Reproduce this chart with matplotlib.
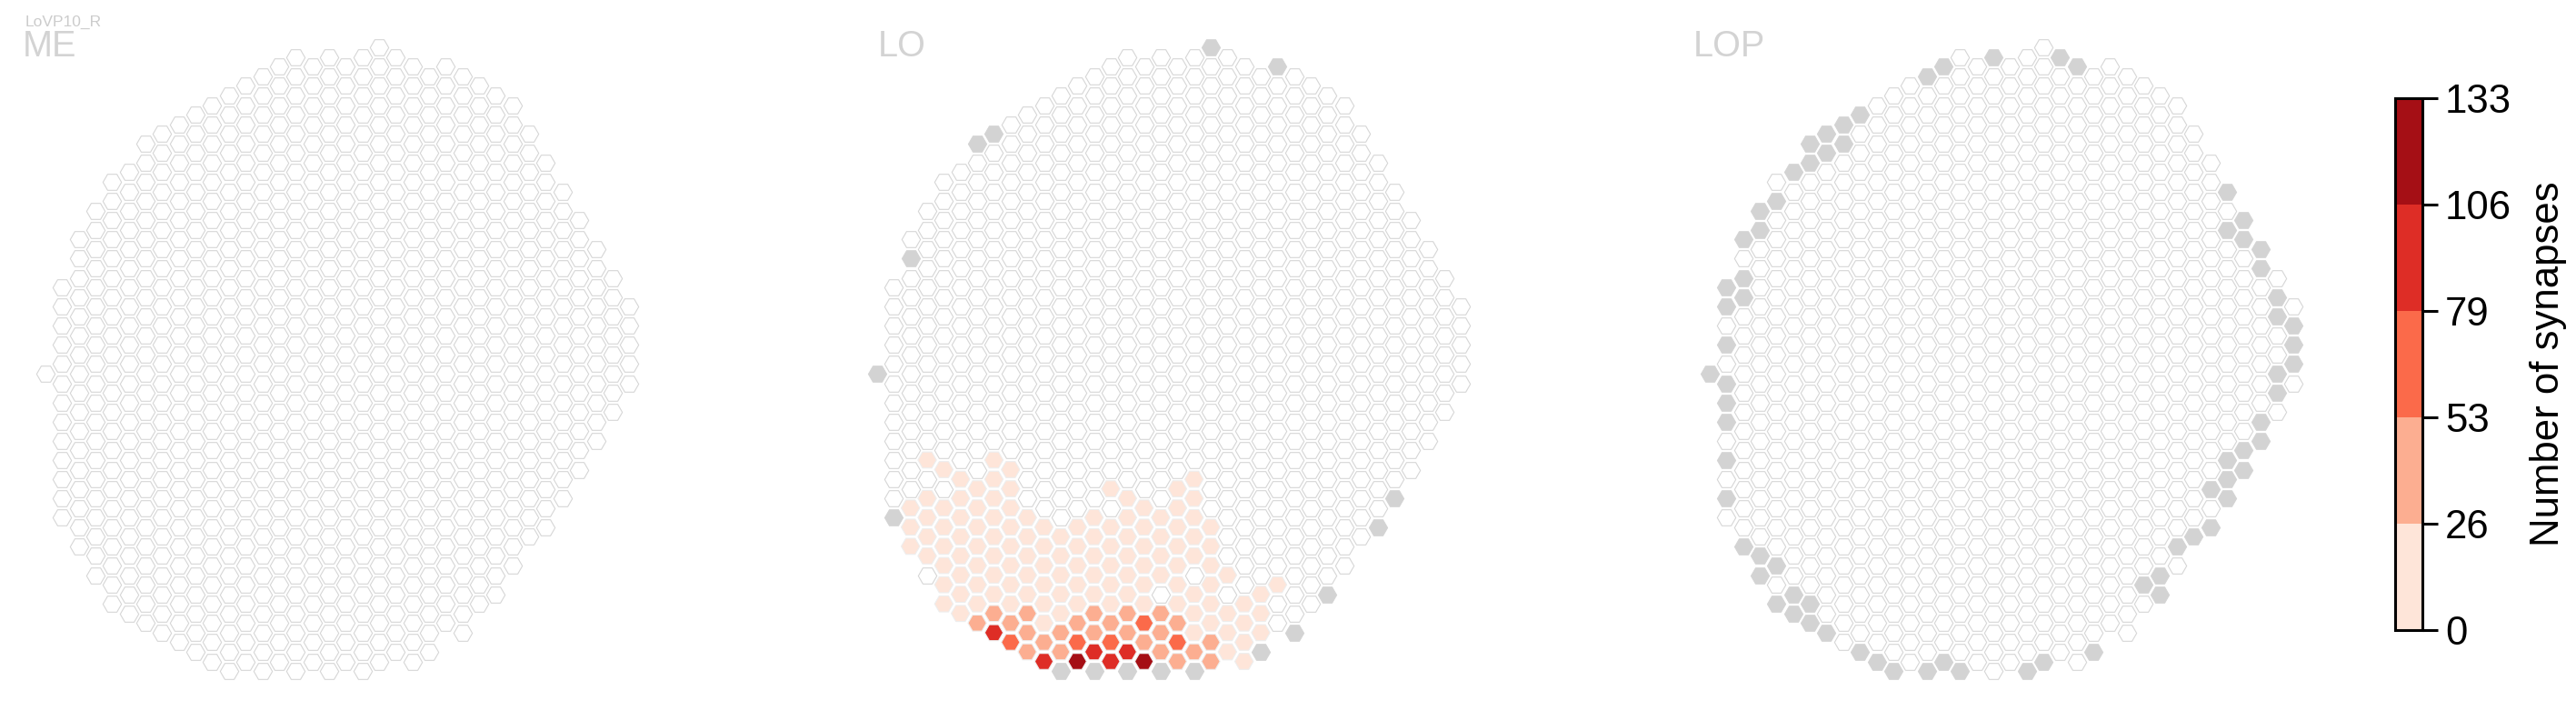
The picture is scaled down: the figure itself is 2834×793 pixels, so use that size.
import numpy as np
import matplotlib
matplotlib.use("Agg")
import matplotlib.pyplot as plt
from matplotlib.colors import BoundaryNorm, ListedColormap
import matplotlib.cm as cm

# eye-map columns: for every hex column, the first and last half-row index
col_top = [34, 25, 20, 17, 14, 13, 10, 9, 8, 7, 6, 5, 4, 3, 2, 1, 2, 1,
           2, 1, 0, 1, 2, 3, 2, 3, 4, 5, 6, 9, 12, 15, 18, 21, 24, 27]
col_bottom = [34, 49, 52, 55, 58, 59, 60, 61, 62, 63, 64, 65, 64, 65, 64, 65, 64, 65,
              64, 65, 64, 63, 64, 63, 60, 61, 58, 57, 54, 51, 50, 47, 44, 41, 38, 35]

panel_names = ["ME", "LO", "LOP"]
cell_type = "LoVP10_R"

# columns without data in a neuropil (drawn grey)
lo_missing = [(0, 34), (1, 49), (2, 22), (6, 10), (7, 9), (20, 0), (24, 2),
              (11, 65), (13, 65), (15, 65), (17, 65), (19, 65), (23, 63),
              (25, 61), (27, 57), (30, 50), (31, 47)]
lop_missing = [(0, 34), (1, 25), (1, 27), (1, 31), (1, 35), (1, 37), (1, 39), (1, 43), (1, 47),
               (2, 20), (2, 24), (2, 26), (2, 52), (3, 17), (3, 19), (3, 53), (3, 55),
               (4, 16), (4, 54), (4, 58), (5, 13), (5, 57), (5, 59), (6, 10), (6, 12),
               (6, 58), (6, 60), (7, 9), (7, 11), (7, 61), (8, 8), (8, 10), (9, 7), (9, 63),
               (10, 64), (11, 65), (13, 3), (13, 65), (14, 2), (14, 64), (15, 65), (17, 1),
               (19, 65), (20, 64), (21, 1), (22, 2), (23, 63), (26, 56), (27, 55), (27, 57),
               (28, 52), (29, 51), (30, 46), (30, 50), (31, 15), (31, 19), (31, 43), (31, 45),
               (31, 47), (32, 18), (32, 20), (32, 42), (32, 44), (33, 21), (33, 23), (33, 39),
               (33, 41), (34, 26), (34, 28), (34, 34), (34, 36), (35, 29), (35, 31), (35, 33)]
me_missing = []

# LO synapse counts per column (half-row -> start column, values every 2nd column)
lo_rows = {
    43: (3, [13, 0, 13]),
    44: (4, [13, 0, 13]),
    45: (5, [13, 13, 0, 0, 0, 0, 0, 13]),
    46: (6, [13, 13, 0, 0, 13, 0, 13, 0, 0, 0, 0]),
    47: (3, [13, 13, 13, 0, 0, 0, 13, 0, 13, 0, 0, 0]),
    48: (2, [13, 13, 13, 13, 0, 0, 0, 13, 13, 0, 0]),
    49: (3, [13, 13, 13, 13, 0, 13, 13, 13, 13, 0, 0]),
    50: (2, [13, 13, 13, 13, 13, 13, 13, 13, 13, 13, 0]),
    51: (3, [13, 13, 13, 13, 13, 13, 13, 13, 13, 0, 0]),
    52: (2, [13, 13, 13, 13, 13, 13, 13, 13, 13, 13, 0]),
    53: (3, [13, 13, 13, 13, 13, 13, 13, 13, 13, 0, 0]),
    54: (4, [13, 13, 13, 13, 13, 13, 13, 13, 13, 0, 0, 0]),
    55: (3, [0, 13, 13, 13, 13, 13, 13, 13, 0, 13, 0, 0]),
    56: (4, [13, 13, 13, 13, 13, 13, 13, 13, 13, 0, 13]),
    57: (5, [13, 13, 13, 13, 13, 13, 0, 13, 0, 13]),
    58: (4, [13, 13, 13, 13, 13, 13, 13, 13, 13, 13, 0]),
    59: (5, [13, 40, 40, 13, 40, 40, 40, 13, 13, 13]),
    60: (6, [40, 40, 13, 40, 40, 66, 40, 13, 13]),
    61: (7, [93, 40, 40, 40, 40, 40, 13, 13, 13]),
    62: (8, [66, 40, 66, 66, 40, 66, 40, 13]),
    63: (9, [40, 40, 93, 93, 40, 40, 13]),
    64: (10, [93, 120, 93, 120, 40, 40, 13]),
}

bounds = np.linspace(0, 133, 6)
bin_colors = ["#fee5d9", "#fcae91", "#fb6a4a", "#de2d26", "#a50f15"]

# ---- figure -------------------------------------------------------------
W, H = 2834, 793
fig = plt.figure(figsize=(W / 100, H / 100), dpi=100)
plt.rcParams["font.family"] = ["Liberation Sans", "DejaVu Sans"]

cmap = ListedColormap(bin_colors)
norm = BoundaryNorm(bounds, cmap.N)

dx, dy = 18.35, 10.55  # px per column / per half-row
panel_x0 = [50, 965, 1881]
y0 = 52.3
xl = (-1.5, 36.5)
yl = (68, -3)
hex_s = 215


def add_panel(x0, name, missing, values):
    left = x0 + xl[0] * dx
    width = (xl[1] - xl[0]) * dx
    top = y0 + yl[1] * dy
    height = (yl[0] - yl[1]) * dy
    ax = fig.add_axes([left / W, 1 - (top + height) / H, width / W, height / H])
    ax.set_xlim(*xl)
    ax.set_ylim(*yl)
    ax.axis("off")

    cols, rows = [], []
    for c, (t, b) in enumerate(zip(col_top, col_bottom)):
        for h in range(t, b + 1, 2):
            cols.append(c)
            rows.append(h)
    cols = np.array(cols)
    rows = np.array(rows)
    miss = set(missing)
    is_miss = np.array([(c, h) in miss for c, h in zip(cols, rows)], dtype=bool)
    val = np.array([values.get((c, h), 0) for c, h in zip(cols, rows)], dtype=float)
    empty = (~is_miss) & (val <= 0)
    filled = (~is_miss) & (val > 0)

    ax.scatter(cols[empty], rows[empty], s=hex_s, marker="H", facecolor="white",
               edgecolor="#d6d6d6", linewidth=0.8)
    ax.scatter(cols[is_miss], rows[is_miss], s=hex_s, marker="H", facecolor="#d3d3d3",
               edgecolor="#d3d3d3", linewidth=0.6)
    ax.scatter(cols[filled], rows[filled], s=hex_s, marker="H", c=val[filled],
               cmap=cmap, norm=norm, edgecolor="#eeeeee", linewidth=0.8)
    return ax


lo_values = {}
for h, (c0, vals) in lo_rows.items():
    for i, v in enumerate(vals):
        lo_values[(c0 + 2 * i, h)] = v

add_panel(panel_x0[0], "ME", me_missing, {})
add_panel(panel_x0[1], "LO", lo_missing, lo_values)
add_panel(panel_x0[2], "LOP", lop_missing, {})

label_x = [24.5, 966, 1862.5]
for x, name in zip(label_x, panel_names):
    fig.text(x / W, 1 - 62 / H, name, fontsize=28.5, color="#d3d3d3", va="baseline")
fig.text(28 / W, 1 - 28.5 / H, cell_type, fontsize=12.5, color="#cccccc", va="baseline")

# colorbar
cax = fig.add_axes([2635 / W, 1 - 693 / H, 30 / W, (693 - 108) / H])
sm = cm.ScalarMappable(norm=norm, cmap=cmap)
cb = fig.colorbar(sm, cax=cax, ticks=bounds)
cb.ax.set_yticklabels([str(int(b)) for b in bounds])
cb.outline.set_linewidth(2.2)
cb.ax.tick_params(length=12, width=2.2, labelsize=31.5, pad=6)
cb.set_label("Number of synapses", fontsize=31.5, labelpad=14)

fig.savefig("out.png", dpi=100)
